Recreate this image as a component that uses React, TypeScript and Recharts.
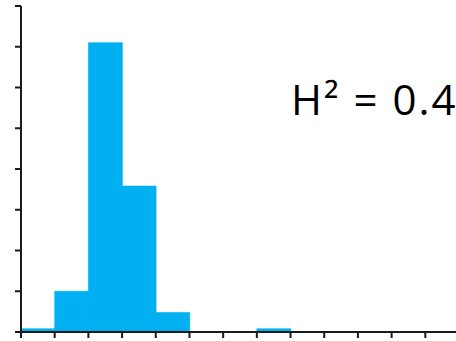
import { BarChart, Bar, XAxis, YAxis } from "recharts";

// bin centres (bins are one unit wide, 0..13)
const binCenters = [0.5, 1.5, 2.5, 3.5, 4.5, 5.5, 6.5, 7.5, 8.5, 9.5, 10.5, 11.5, 12.5];
const binHeights = [0.08, 1.0, 7.1, 3.58, 0.48, 0, 0, 0.08, 0, 0, 0, 0, 0];
const xTicks = [0, 1, 2, 3, 4, 5, 6, 7, 8, 9, 10, 11, 12];
const yTicks = [0, 1, 2, 3, 4, 5, 6, 7, 8];
const annotation = "H\u00B2 = 0.4";

const data = binCenters.map((x, i) => ({ x, count: binHeights[i] }));

const axisColor = "#1a1a1a";
const barColor = "#00B0F0";

// tick marks only, no labels
const noLabel = () => <g />;

export default function App() {
  return (
    <div
      style={{
        position: "absolute",
        left: 0,
        top: 0,
        width: 456,
        height: 341,
        overflow: "hidden",
        background: "#fff",
      }}
    >
      <BarChart
        width={460}
        height={341}
        data={data}
        margin={{ top: 6, right: 1, bottom: 8, left: 20 }}
        barCategoryGap={0}
        barGap={0}
      >
        <XAxis
          dataKey="x"
          type="number"
          domain={[0, 13]}
          ticks={xTicks}
          interval={0}
          height={1}
          tick={noLabel}
          tickSize={6}
          stroke={axisColor}
          strokeWidth={2}
        />
        <YAxis
          type="number"
          domain={[0, 8]}
          ticks={yTicks}
          interval={0}
          width={1}
          tick={noLabel}
          tickSize={6}
          stroke={axisColor}
          strokeWidth={2}
        />
        <Bar
          dataKey="count"
          fill={barColor}
          stroke={barColor}
          strokeWidth={0.6}
          isAnimationActive={false}
        />
      </BarChart>
      <div
        style={{
          position: "absolute",
          left: 291,
          top: 75,
          fontFamily: "'Open Sans', sans-serif",
          fontSize: 42,
          letterSpacing: 2,
          lineHeight: "48px",
          color: "#000",
          whiteSpace: "nowrap",
        }}
      >
        {annotation}
      </div>
    </div>
  );
}
